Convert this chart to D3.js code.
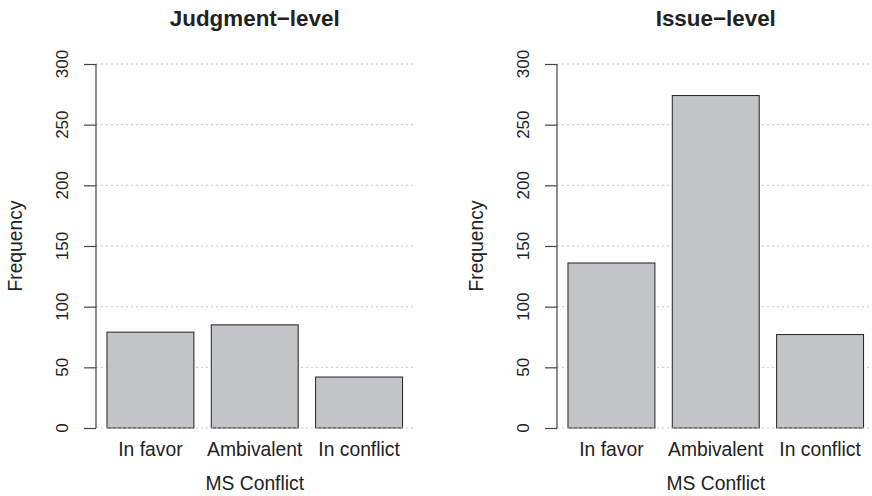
<!DOCTYPE html>
<html>
<head>
<meta charset="utf-8">
<script src="https://d3js.org/d3.v7.min.js"></script>
<style>
  body { margin: 0; background: #fff; }
  text { font-family: "Liberation Sans", Arial, sans-serif; fill: #222; }
</style>
</head>
<body>
<div id="chart"></div>
<script>
// 1. Data -------------------------------
var categories = ["In favor", "Ambivalent", "In conflict"];
var judgmentCounts = [79, 85, 42];
var issueCounts = [136, 274, 77];
var yTicks = [0, 50, 100, 150, 200, 250, 300];
var panelTitles = ["Judgment\u2212level", "Issue\u2212level"];

// 2. Svg and shared scales -------------------------------
var svg = d3.select("#chart")
    .append("svg")
    .attr("width", 872)
    .attr("height", 496);

var plotW = 317.5;
var y = d3.scaleLinear().domain([0, 300]).range([428, 64]);

var x = d3.scaleBand()
    .domain(categories)
    .range([0, plotW])
    .paddingInner(0.2 / 1.2)
    .paddingOuter(0.105);

// 3. One panel per level -------------------------------
function drawPanel(left, title, counts) {
    var g = svg.append("g").attr("transform", "translate(" + left + ",0)");

    // grid lines behind the bars
    g.selectAll(".grid")
        .data(yTicks.filter(function(d) { return d > 0; }))
        .enter()
        .append("line")
        .attr("x1", 0).attr("x2", plotW)
        .attr("y1", function(d) { return y(d); })
        .attr("y2", function(d) { return y(d); })
        .attr("stroke", "#c8c8c8")
        .attr("stroke-width", 1)
        .attr("stroke-dasharray", "2,3");

    g.selectAll("rect")
        .data(counts)
        .enter()
        .append("rect")
        .attr("x", function(d, i) { return x(categories[i]); })
        .attr("y", function(d) { return y(d); })
        .attr("width", x.bandwidth())
        .attr("height", function(d) { return y(0) - y(d); })
        .attr("fill", "#c3c4c6")
        .attr("stroke", "#222")
        .attr("stroke-width", 1);

    // zero line drawn over the bar bottoms
    g.append("line")
        .attr("x1", 0).attr("x2", plotW)
        .attr("y1", y(0)).attr("y2", y(0))
        .attr("stroke", "#c8c8c8")
        .attr("stroke-width", 1)
        .attr("stroke-dasharray", "2,3");

    // y axis
    var ax = g.append("g").call(d3.axisLeft(y).tickValues(yTicks).tickSize(12).tickFormat(""));
    ax.select(".domain").attr("stroke", "#444").attr("stroke-width", 1.2)
        .attr("d", "M0," + y(0) + "V" + y(300));
    ax.selectAll(".tick line").attr("stroke", "#444").attr("stroke-width", 1.2);

    g.selectAll(".ylab")
        .data(yTicks)
        .enter()
        .append("text")
        .attr("transform", function(d) { return "translate(-28," + y(d) + ") rotate(-90)"; })
        .attr("text-anchor", "middle")
        .style("font-size", "17px")
        .text(function(d) { return d; });

    // category labels
    g.selectAll(".xlab")
        .data(categories)
        .enter()
        .append("text")
        .attr("x", function(d) { return x(d) + x.bandwidth() / 2; })
        .attr("y", 456)
        .attr("text-anchor", "middle")
        .style("font-size", "19.3px")
        .text(function(d) { return d; });

    g.append("text")
        .attr("x", plotW / 2).attr("y", 490)
        .attr("text-anchor", "middle")
        .style("font-size", "19.3px")
        .text("MS Conflict");

    g.append("text")
        .attr("transform", "translate(-74.5,246) rotate(-90)")
        .attr("text-anchor", "middle")
        .style("font-size", "19.3px")
        .text("Frequency");

    g.append("text")
        .attr("x", plotW / 2).attr("y", 25.5)
        .attr("text-anchor", "middle")
        .style("font-size", "22.4px")
        .style("font-weight", "bold")
        .text(title);
}

drawPanel(96, panelTitles[0], judgmentCounts);
drawPanel(557, panelTitles[1], issueCounts);
</script>
</body>
</html>
